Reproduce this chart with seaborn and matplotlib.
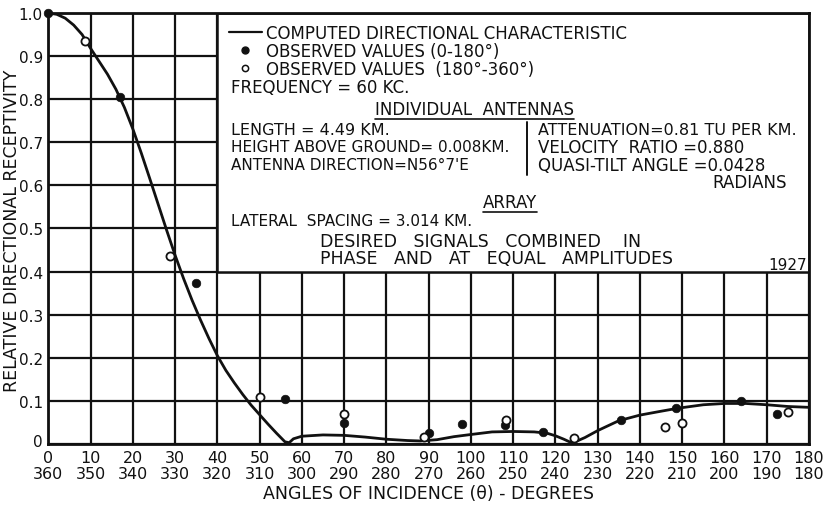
import matplotlib
matplotlib.use("Agg")
import matplotlib.pyplot as plt
import matplotlib.transforms as mtrans
import seaborn as sns
import pandas as pd
from matplotlib.lines import Line2D
from matplotlib.patches import Rectangle

# ---------------- data ----------------
curve_angle = [0, 2, 4, 6, 8, 10, 12, 14, 16, 18, 20, 22, 24, 26, 28, 30, 32, 34, 36, 38,
               40, 42, 44, 46, 48, 50, 52, 54, 56, 57, 58, 60, 65, 70, 75, 80, 85, 88, 92,
               96, 100, 105, 110, 115, 118, 120, 122, 124, 127, 130, 135, 140, 145, 149,
               155, 160, 165, 170, 175, 180]
curve_value = [1.0, 0.997, 0.988, 0.972, 0.95, 0.918, 0.888, 0.858, 0.823, 0.781, 0.731, 0.675,
               0.616, 0.556, 0.496, 0.438, 0.384, 0.334, 0.288, 0.245, 0.205, 0.171, 0.142,
               0.115, 0.09, 0.068, 0.046, 0.025, 0.005, 0.003, 0.012, 0.018, 0.021, 0.02,
               0.016, 0.011, 0.008, 0.007, 0.01, 0.017, 0.022, 0.028, 0.029, 0.028, 0.025,
               0.019, 0.011, 0.002, 0.015, 0.031, 0.054, 0.067, 0.076, 0.083, 0.091, 0.094,
               0.094, 0.091, 0.087, 0.085]

obs_0_180_angle = [0, 17, 35, 56, 70, 90, 98, 108, 117, 135.5, 148.5, 164, 172.5]
obs_0_180_value = [1.0, 0.806, 0.373, 0.105, 0.048, 0.025, 0.046, 0.044, 0.027, 0.056, 0.083, 0.1, 0.069]

obs_180_360_angle = [8.7, 28.7, 50, 70, 89, 108.2, 124.5, 146, 150, 175]
obs_180_360_value = [0.936, 0.436, 0.11, 0.069, 0.016, 0.056, 0.013, 0.039, 0.049, 0.075]

x_ticks = list(range(0, 181, 10))
x_tick_top = [str(v) for v in x_ticks]
x_tick_bottom = [str(360 - v) if v < 180 else "180" for v in x_ticks]
y_ticks = [0, 0.1, 0.2, 0.3, 0.4, 0.5, 0.6, 0.7, 0.8, 0.9, 1.0]
y_tick_labels = ["0", "0.1", "0.2", "0.3", "0.4", "0.5", "0.6", "0.7", "0.8", "0.9", "1.0"]

curve_df = pd.DataFrame({"angle": curve_angle, "value": curve_value})
obs1_df = pd.DataFrame({"angle": obs_0_180_angle, "value": obs_0_180_value})
obs2_df = pd.DataFrame({"angle": obs_180_360_angle, "value": obs_180_360_value})

# ---------------- style ----------------
sns.set_theme(style="white")
plt.rcParams["font.family"] = ["DejaVu Sans"]
INK = "#111111"

fig = plt.figure(figsize=(8.26, 5.06), dpi=100)
ax = fig.add_axes([0.0585, 0.1206, 0.9209, 0.8517])

ax.set_xlim(0, 180)
ax.set_ylim(0, 1.0)

# grid
ax.set_xticks(x_ticks)
ax.set_yticks(y_ticks)
ax.grid(True, color=INK, linewidth=1.6)
ax.set_axisbelow(True)
for s in ax.spines.values():
    s.set_color(INK)
    s.set_linewidth(2.0)

# white text panel covering the upper-right part of the grid
ax.add_patch(Rectangle((40, 0.4), 140, 0.6, facecolor="white", edgecolor=INK,
                       linewidth=1.8, zorder=1))

# curve and observations
sns.lineplot(data=curve_df, x="angle", y="value", ax=ax, color=INK, linewidth=2.0,
             zorder=3, legend=False, sort=False, estimator=None)
sns.scatterplot(data=obs1_df, x="angle", y="value", ax=ax, color=INK, s=38,
                edgecolor=INK, linewidth=0.5, zorder=4, legend=False, clip_on=False)
sns.scatterplot(data=obs2_df, x="angle", y="value", ax=ax, facecolor="white", s=34,
                edgecolor=INK, linewidth=1.3, zorder=4, legend=False, clip_on=False)

# ticks
ax.set_xticklabels([f"{a}\n{b}" for a, b in zip(x_tick_top, x_tick_bottom)],
                   fontsize=11.5, color=INK, linespacing=1.1)
ax.set_yticklabels(y_tick_labels, fontsize=11, color=INK)
ax.tick_params(axis="both", length=0)
ax.tick_params(axis="x", pad=4)
ax.tick_params(axis="y", pad=4)
# lift the "0" of the y axis a little so it clears the x-axis "0"
ylab0 = ax.get_yticklabels()[0]
ylab0.set_transform(ylab0.get_transform() +
                    mtrans.ScaledTranslation(0, 4 / 100, fig.dpi_scale_trans))

ax.set_xlabel("ANGLES OF INCIDENCE (θ) - DEGREES", fontsize=12.5, color=INK)
ax.set_ylabel("RELATIVE DIRECTIONAL RECEPTIVITY", fontsize=12.5, color=INK)
ax.xaxis.set_label_coords(0.5003, -0.094)
ax.yaxis.set_label_coords(-0.036, 0.497)

# legend inside the panel
handles = [
    Line2D([], [], color=INK, linewidth=1.6),
    Line2D([], [], color=INK, marker="o", linestyle="none", markersize=5),
    Line2D([], [], color=INK, marker="o", linestyle="none", markersize=4.5,
           markerfacecolor="white", markeredgewidth=1.1),
]
labels = ["COMPUTED DIRECTIONAL CHARACTERISTIC",
          "OBSERVED VALUES (0-180°)",
          "OBSERVED VALUES  (180°-360°)"]
leg = ax.legend(handles, labels, loc="upper left", bbox_to_anchor=(229 / 826, 1 - 25 / 506),
                bbox_transform=fig.transFigure, frameon=False, fontsize=12,
                handlelength=1.95, handletextpad=0.3, labelspacing=0.0,
                borderpad=0, borderaxespad=0)
for t in leg.get_texts():
    t.set_color(INK)
leg.set_zorder(5)

def note(x, y, s, size=11, ha="left"):
    return ax.text(x, y, s, fontsize=size, color=INK, va="center", ha=ha, zorder=5)

note(43.2, 0.829, "FREQUENCY = 60 KC.", 12)
h1 = note(100.8, 0.777, "INDIVIDUAL  ANTENNAS", 12, "center")
note(43.2, 0.729, "LENGTH = 4.49 KM.", 11.5)
note(43.2, 0.690, "HEIGHT ABOVE GROUND= 0.008KM.", 11)
note(43.2, 0.648, "ANTENNA DIRECTION=N56°7'E", 11)
note(115.8, 0.729, "ATTENUATION=0.81 TU PER KM.", 11.5)
note(115.8, 0.690, "VELOCITY  RATIO =0.880", 12)
note(115.8, 0.648, "QUASI-TILT ANGLE =0.0428", 12)
note(174.8, 0.609, "RADIANS", 12, "right")
h2 = note(109.3, 0.562, "ARRAY", 12, "center")
note(43.2, 0.519, "LATERAL  SPACING = 3.014 KM.", 11)
note(64.3, 0.470, "DESIRED   SIGNALS   COMBINED    IN", 12.5)
note(64.3, 0.431, "PHASE   AND   AT   EQUAL   AMPLITUDES", 12.5)
note(179.4, 0.416, "1927", 11, "right")

# vertical separator
ax.plot([113.2, 113.2], [0.625, 0.748], color=INK, linewidth=1.4, zorder=5)

# underline headings
fig.canvas.draw()
renderer = fig.canvas.get_renderer()
inv = ax.transData.inverted()
for h in (h1, h2):
    bb = h.get_window_extent(renderer)
    (x0, y0) = inv.transform((bb.x0, bb.y0 - 1))
    (x1, _) = inv.transform((bb.x1, bb.y0 - 1))
    ax.plot([x0, x1], [y0, y0], color=INK, linewidth=1.2, zorder=5)

fig.savefig("out.png", dpi=100, facecolor="white")
